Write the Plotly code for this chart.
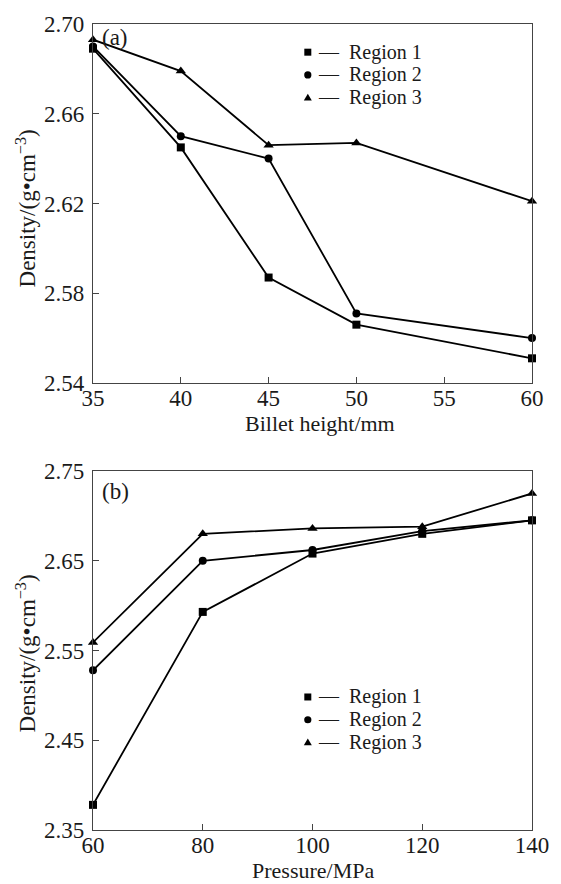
import plotly.graph_objects as go

# --- data -------------------------------------------------------------
billet_height = [35, 40, 45, 50, 60]
dens_a_region1 = [2.689, 2.645, 2.587, 2.566, 2.551]
dens_a_region2 = [2.690, 2.650, 2.640, 2.571, 2.560]
dens_a_region3 = [2.693, 2.679, 2.646, 2.647, 2.621]

pressure = [60, 80, 100, 120, 140]
dens_b_region1 = [2.378, 2.593, 2.658, 2.680, 2.695]
dens_b_region2 = [2.528, 2.650, 2.662, 2.683, 2.695]
dens_b_region3 = [2.559, 2.680, 2.686, 2.688, 2.725]

region_names = ["Region 1", "Region 2", "Region 3"]
symbols = ["square", "circle", "triangle-up"]

# --- figure geometry (pixels) -------------------------------------------
W, H = 561, 884
ML, MR, MT, MB = 93, 19, 15, 54
PW = W - ML - MR
PH = H - MT - MB
TOP_Y0, TOP_Y1 = 378, 15      # pixel rows of panel (a)
BOT_Y0, BOT_Y1 = 830, 467     # pixel rows of panel (b)

def py_to_paper(py):
    return (H - MB - py) / PH

FONT = "Liberation Serif, Times New Roman, serif"
FS = 23
INK = "#1a1a1a"
AXC = "#444444"

fig = go.Figure()

panels = [
    ("x", "y", billet_height, [dens_a_region1, dens_a_region2, dens_a_region3]),
    ("x2", "y2", pressure, [dens_b_region1, dens_b_region2, dens_b_region3]),
]
for xa, ya, xs, series in panels:
    for name, sym, ys in zip(region_names, symbols, series):
        fig.add_trace(go.Scatter(
            x=xs, y=ys, name=name, xaxis=xa, yaxis=ya, mode="lines+markers",
            line=dict(color="black", width=1.8),
            marker=dict(symbol=sym, size=8 if sym != "triangle-up" else 9,
                        color="black"),
            showlegend=False, cliponaxis=False,
        ))

axis_common = dict(
    showline=True, linecolor=AXC, linewidth=1.3, mirror=True,
    ticks="inside", ticklen=6, tickwidth=1.1, tickcolor=AXC,
    showgrid=False, zeroline=False,
    tickfont=dict(family=FONT, size=FS, color=INK),
)

fig.update_layout(
    width=W, height=H,
    margin=dict(l=ML, r=MR, t=MT, b=MB),
    paper_bgcolor="white", plot_bgcolor="white",
    showlegend=False,
    xaxis=dict(axis_common, domain=[0, 1], anchor="y", range=[35, 60],
               tickvals=[35, 40, 45, 50, 55, 60], ticklabelstandoff=-6),
    yaxis=dict(axis_common, domain=[py_to_paper(TOP_Y0), 1], anchor="x",
               range=[2.54, 2.70], tickvals=[2.54, 2.58, 2.62, 2.66, 2.70],
               tickformat=".2f", ticklabelstandoff=3),
    xaxis2=dict(axis_common, domain=[0, 1], anchor="y2", range=[60, 140],
                tickvals=[60, 80, 100, 120, 140], ticklabelstandoff=-6),
    yaxis2=dict(axis_common, domain=[0, py_to_paper(BOT_Y1)], anchor="x2",
                range=[2.35, 2.75], tickvals=[2.35, 2.45, 2.55, 2.65, 2.75],
                tickformat=".2f", ticklabelstandoff=3),
)

def dom_x(px):
    return (px - ML) / PW

def dom_y(py, y0, y1):
    return (y0 - py) / (y0 - y1)

annotations = []
shapes = []

def text_ann(txt, xref, yref, x, y, xanchor="center", angle=0, size=FS):
    annotations.append(dict(
        text=txt, xref=xref, yref=yref, x=x, y=y, xanchor=xanchor,
        yanchor="middle", showarrow=False, textangle=angle,
        font=dict(family=FONT, size=size, color=INK),
    ))

ytitle = "Density/(g•cm<sup>−3</sup>)"
for xref, yref, y0, y1, tag, tag_y, ytitle_y, xtitle, xtitle_x, xtitle_y, leg_rows in [
    ("x domain", "y domain", TOP_Y0, TOP_Y1, "(a)", 28.5, 202,
     "Billet height/mm", 325.6, 419, [43.5, 66.5, 89.5]),
    ("x2 domain", "y2 domain", BOT_Y0, BOT_Y1, "(b)", 488, 652,
     "Pressure/MPa", 317.6, 871, [695.5, 718.5, 741.5]),
]:
    text_ann(tag, xref, yref, dom_x(100), dom_y(tag_y, y0, y1), xanchor="left")
    text_ann(ytitle, xref, yref, dom_x(25), dom_y(ytitle_y, y0, y1), angle=-90,
             size=23)
    text_ann(xtitle, xref, yref, dom_x(xtitle_x), dom_y(xtitle_y, y0, y1),
             size=22)
    # legend block: symbol, dash and series name
    for name, sym, ry in zip(region_names, symbols, leg_rows):
        yc = dom_y(ry, y0, y1)
        xc = dom_x(312.7)
        key = dict(xref=xref, yref=yref, xsizemode="pixel", ysizemode="pixel",
                   xanchor=xc, yanchor=yc, fillcolor="black",
                   line=dict(width=0))
        if sym == "square":
            key.update(type="rect", x0=-3.5, x1=3.5, y0=-3.5, y1=3.5)
        elif sym == "circle":
            key.update(type="circle", x0=-3.6, x1=3.6, y0=-3.6, y1=3.6)
        else:
            key.update(type="path", path="M 0 4 L 4 -2.8 L -4 -2.8 Z")
        shapes.append(key)
        text_ann("—  " + name, xref, yref, dom_x(321), yc, xanchor="left",
                 size=20)

fig.update_layout(annotations=annotations, shapes=shapes)

fig.write_html("out.html")
